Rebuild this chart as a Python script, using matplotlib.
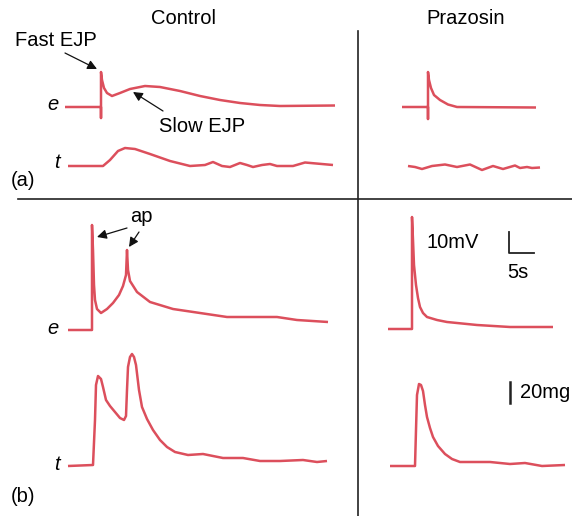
import matplotlib.pyplot as plt

plt.rcParams['font.family'] = ['Liberation Sans', 'DejaVu Sans']

# traces: time (s), membrane potential e (mV), tension t (mg)
# (a) single stimulus
a_ctrl_e_time = [0, 7.2, 7.2, 7.2, 7.4, 7.8, 8.4, 9.4, 11, 13, 16, 19, 23, 27, 31, 35, 39, 43, 54]
a_ctrl_e_mv = [0, 0, -5.5, 17.5, 13.5, 9.5, 7, 5.5, 7, 9, 10.5, 10, 8, 5.5, 3.5, 2, 1, 0.5, 0.75]
a_ctrl_t_time = [0, 7, 8.4, 10, 11.4, 13.4, 16.4, 20.4, 24.4, 27.4, 29, 30.8, 32.4, 34.4, 35.8, 37,
                 38.8, 40.4, 41.8, 45, 47.4, 53]
a_ctrl_t_mg = [0, 0, 6, 15, 18, 17, 12, 5, 0, 1, 4, 0, -1, 3, 1, -1, 1, 2, 0, 0, 3.5, 1]
a_praz_e_time = [0, 5.2, 5.2, 5.2, 5.4, 5.8, 6.4, 7.6, 9.2, 11, 26.8]
a_praz_e_mv = [0, 0, -6, 17.5, 13.5, 9.5, 6, 3.5, 1.25, 0, -0.25]
a_praz_t_time = [0, 1.4, 2.8, 4.8, 7.4, 9.8, 12.4, 14.8, 17, 19, 21.4, 22.4, 23.8, 24.8, 26.4]
a_praz_t_mg = [0, -1, -3, 0, 1.5, -1, 1.5, -4, 0, -3, 0.5, -2, -1, -2, -1.5]
# (b) train of stimuli
b_ctrl_e_time = [0, 4.8, 4.8, 5, 5.2, 5.4, 5.8, 6.6, 7.8, 9, 10.2, 11, 11.6, 11.8, 12, 12.4, 13.8,
                 16.4, 21, 26.4, 31.8, 36.4, 41.8, 45.8, 52]
b_ctrl_e_mv = [0, 0, 52.5, 40, 22.5, 15, 10.5, 8.5, 10.5, 13.5, 17.5, 22, 27.5, 40, 30, 24.5, 19,
               14, 10.5, 8.5, 6.5, 6.5, 6.5, 5, 4]
b_ctrl_t_time = [0, 5, 5.4, 5.6, 6, 6.6, 7, 7.6, 8.4, 9.4, 10.4, 11.2, 11.6, 11.8, 12, 12.4, 12.8,
                 13.2, 13.6, 14.2, 14.8, 15.8, 17, 18.4, 19.8, 21.4, 24, 27, 29, 31, 35, 38.4,
                 42.4, 47, 49.8, 51.8]
b_ctrl_t_mg = [0, 1, 46, 81, 90, 87, 79, 66, 60, 54, 48, 46, 50, 76, 99, 109, 112, 109, 101, 76,
               59, 47, 36, 26, 19, 14, 11, 12, 10, 8, 8, 5, 5, 6, 4, 5]
b_praz_e_time = [0, 4.8, 4.8, 5, 5.2, 5.6, 6, 6.4, 7, 7.8, 9.8, 11.8, 17.8, 24.4, 33]
b_praz_e_mv = [0, 0, 56, 44.5, 32, 22, 15.5, 11, 8, 6, 4.5, 3.5, 2, 1, 1]
b_praz_t_time = [0, 5, 5.2, 5.4, 5.8, 6.2, 6.6, 7, 7.4, 8, 8.6, 9.6, 11, 12.4, 14, 20, 24, 27,
                 30.4, 35]
b_praz_t_mg = [0, 0, 36, 71, 82, 81, 75, 61, 49, 38, 29, 20, 12, 7, 4, 4, 2, 3, 0, 1]

W, H = 572, 516
PX_PER_S = 5.0
PX_PER_MV = 2.0
PX_PER_MG = 1.0
RED = '#dc4f5c'

fig = plt.figure(figsize=(W / 100, H / 100), dpi=100)
bg = fig.add_axes([0, 0, 1, 1])
bg.set_xlim(0, W)
bg.set_ylim(H, 0)
bg.axis('off')


def trace(tt, vv, x0, y0, px_per_unit):
    # overlay axes on the whole figure, origin of the trace at pixel (x0, y0)
    ax = fig.add_axes([0, 0, 1, 1], facecolor='none')
    ax.set_xlim(-x0 / PX_PER_S, (W - x0) / PX_PER_S)
    ax.set_ylim((y0 - H) / px_per_unit, y0 / px_per_unit)
    ax.axis('off')
    ax.plot(tt, vv, color=RED, lw=1.8, solid_joinstyle='round', solid_capstyle='butt')


trace(a_ctrl_e_time, a_ctrl_e_mv, 65, 107, PX_PER_MV)
trace(a_ctrl_t_time, a_ctrl_t_mg, 68, 166, PX_PER_MG)
trace(a_praz_e_time, a_praz_e_mv, 402, 107, PX_PER_MV)
trace(a_praz_t_time, a_praz_t_mg, 408, 166, PX_PER_MG)
trace(b_ctrl_e_time, b_ctrl_e_mv, 68, 330, PX_PER_MV)
trace(b_ctrl_t_time, b_ctrl_t_mg, 68, 466, PX_PER_MG)
trace(b_praz_e_time, b_praz_e_mv, 388, 329, PX_PER_MV)
trace(b_praz_t_time, b_praz_t_mg, 390, 466, PX_PER_MG)

# divider lines
bg.plot([18, W], [199, 199], color='#222222', lw=1.2)
bg.plot([358, 358], [31, H], color='#222222', lw=1.2)

fs = 14.5
bg.text(183, 18, 'Control', fontsize=fs, ha='center', va='center')
bg.text(466, 18, 'Prazosin', fontsize=fs, ha='center', va='center')
bg.text(15, 40, 'Fast EJP', fontsize=fs, ha='left', va='center')
bg.text(159, 127, 'Slow EJP', fontsize=fs, ha='left', va='center')
bg.text(11, 181, '(a)', fontsize=fs, ha='left', va='center')
bg.text(11, 497, '(b)', fontsize=fs, ha='left', va='center')
bg.text(141, 216, 'ap', fontsize=fs, ha='center', va='center')
for x, y, s in [(53, 105, 'e'), (57, 163, 't'), (53, 328, 'e'), (57, 464, 't')]:
    bg.text(x, y, s, fontsize=fs, style='italic', ha='center', va='center')

bg.text(427, 242, '10mV', fontsize=fs, ha='left', va='center')
bg.text(507, 273, '5s', fontsize=fs, ha='left', va='center')
bg.text(520, 393, '20mg', fontsize=fs, ha='left', va='center')
bg.plot([509, 509, 534], [232, 253, 253], color='#222222', lw=1.3)
bg.plot([510, 510], [382, 403], color='#222222', lw=1.8)

arrow = dict(arrowstyle='-|>', color='#111111', lw=0.9, mutation_scale=14, shrinkA=0, shrinkB=0)
bg.annotate('', xy=(97, 69), xytext=(65, 53), arrowprops=arrow)
bg.annotate('', xy=(133, 92), xytext=(163, 111), arrowprops=arrow)
bg.annotate('', xy=(97, 237), xytext=(127, 228), arrowprops=arrow)
bg.annotate('', xy=(129, 247), xytext=(139, 232), arrowprops=arrow)

fig.savefig('out.png', dpi=100)
